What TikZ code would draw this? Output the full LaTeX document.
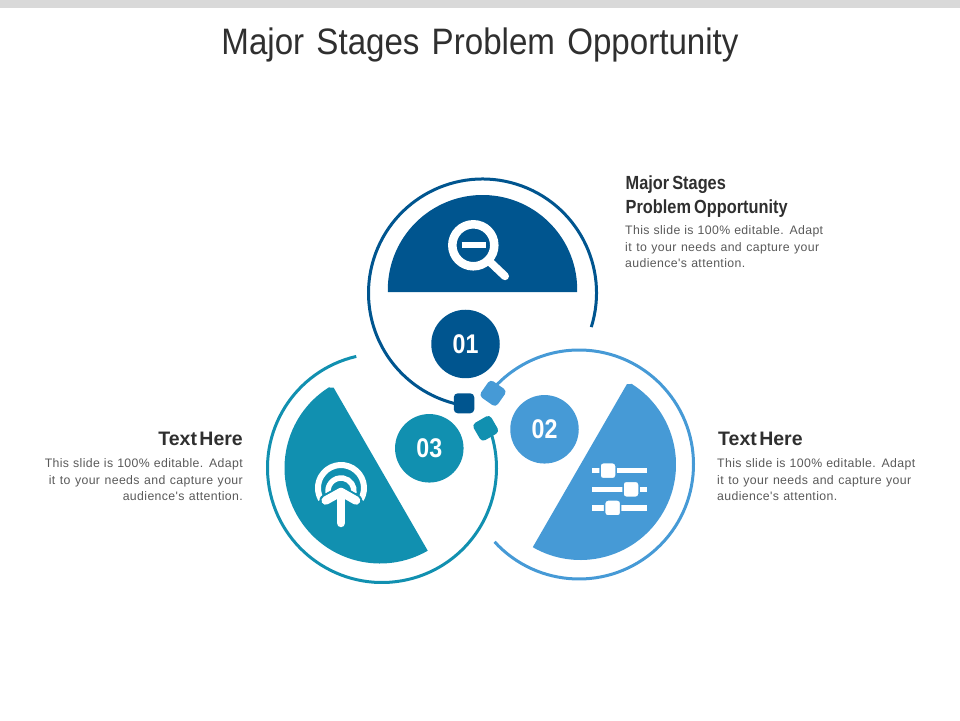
\documentclass[tikz,border=0pt]{standalone}
\usepackage{fontspec}
\setmainfont{Liberation Sans}
\newfontfamily\titlefont[FakeStretch=0.9]{Liberation Sans}
\newfontfamily\headfont[FakeStretch=0.86]{Liberation Sans Bold}
\newfontfamily\headwide{Liberation Sans Bold}
\newfontfamily\bodyfont[LetterSpace=3]{Liberation Sans}
\usetikzlibrary{calc}
\definecolor{cone}{HTML}{00558F}
\definecolor{ctwo}{HTML}{469AD6}
\definecolor{cthree}{HTML}{1190B0}
\definecolor{cband}{HTML}{D9D9D9}
\definecolor{chead}{HTML}{2F2F2F}
\definecolor{cbody}{HTML}{595959}
\newcommand{\bodyline}[2]{\makebox[#1pt][s]{#2}}
\newcommand{\numtext}[1]{\raisebox{-0.8pt}{#1}}
\tikzset{
  x=1pt,y=1pt,
  ring/.style={line width=3pt},
  numdisc/.style={circle,minimum size=68.5pt,inner sep=0pt,text=white,font=\headfont\fontsize{27}{27}\selectfont},
  tab/.style={rounded corners=4pt,minimum width=20.5pt,minimum height=20pt,inner sep=0pt},
  heading/.style={text=chead,font=\headfont\fontsize{19}{23.5}\selectfont,inner sep=0pt},
  headingb/.style={text=chead,font=\headwide\fontsize{19.5}{23.5}\selectfont,inner sep=0pt},
  bodytext/.style={text=cbody,font=\bodyfont\fontsize{12.3}{16.5}\selectfont,inner sep=0pt},
  ico/.style={draw=white,line cap=round}
}
\begin{document}
\begin{tikzpicture}
\useasboundingbox (0,0) rectangle (960,720);
\fill[cband] (0,712) rectangle (960,720);
\node[text=chead,font=\titlefont\fontsize{36.8}{36.8}\selectfont,inner sep=0pt] (title) at (480,675.5) {Major\hspace{3pt} Stages\hspace{3pt} Problem\hspace{3pt} Opportunity};

\coordinate (c1) at (482.5,427);
\coordinate (c2) at (579,255.5);
\coordinate (c3) at (382,252);
\coordinate (d1) at (482.5,430.3);
\coordinate (d2) at (580.5,255.5);
\coordinate (d3) at (380,252);

% half discs
\fill[cone] ($(d1)+(-1.4:94.7)$) arc[start angle=-1.4,end angle=181.4,radius=94.7] -- cycle;
\fill[ctwo] ($(d2)+(60:92.8)$) -- ($(d2)+(57.5:95.5)$) arc[start angle=57.5,end angle=-120,radius=95.5] -- cycle;
\fill[cthree] ($(d3)+(120:92.8)$) -- ($(d3)+(122.5:95.5)$) arc[start angle=122.5,end angle=300,radius=95.5] -- cycle;

% rings
\draw[ring,cone] ($(c1)+(-17.4:114)$) coordinate (s1) arc[start angle=-17.4,end angle=260,radius=114] coordinate (e1);
\draw[ring,ctwo] ($(c2)+(222.5:114.5)$) coordinate (s2) arc[start angle=222.5,end angle=500,radius=114.5] coordinate (e2);
\draw[ring,cthree] ($(c3)+(103:114.5)$) coordinate (s3) arc[start angle=103,end angle=381,radius=114.5] coordinate (e3);

% tabs
\node[tab,fill=cone] (tab1) at (464,316.7) {};
\node[tab,fill=ctwo,rotate=-35] (tab2) at (493,326.7) {};
\node[tab,fill=cthree,rotate=30] (tab3) at (485.7,291.7) {};

% number discs
\node[numdisc,fill=cone] (n1) at (465.5,376) {\numtext{01}};
\node[numdisc,fill=ctwo] (n2) at (544.5,290.7) {\numtext{02}};
\node[numdisc,fill=cthree] (n3) at (429.3,271.7) {\numtext{03}};

% magnifier icon
\draw[ico,line width=8.5pt] (473.3,474.7) circle[radius=21];
\draw[ico,line width=8pt] (490,458) -- (505,443.8);
\draw[draw=white,line width=6pt] (461.7,475) -- (486,475);

% arrow icon
\draw[ico,line width=6pt,line cap=butt] (341,232) ++(-30:23) arc[start angle=-30,end angle=210,radius=23];
\draw[ico,line width=5.5pt,line cap=butt] (341,229) ++(-10:13) arc[start angle=-10,end angle=190,radius=13];
\draw[cthree,line width=12.5pt,line cap=round,line join=round] (325.7,219.5) -- (341,228) -- (356,219.5);
\draw[ico,line width=8.5pt,line join=round] (325.7,219.5) -- (341,228) -- (356,219.5);
\draw[ico,line width=8.5pt] (341,197) -- (341,226);

% sliders icon
\draw[draw=white,line width=5.5pt] (592,249.3) -- (646.7,249.3);
\draw[draw=white,line width=5.5pt] (592,230.7) -- (646.7,230.7);
\draw[draw=white,line width=5.5pt] (592,212) -- (646.7,212);
\foreach \kx/\ky in {608/249.3,631/230.7,612.7/212}
  \filldraw[fill=white,draw=ctwo,line width=1.5pt,rounded corners=3pt] (\kx-8,\ky-8) rectangle (\kx+8,\ky+8);

% text blocks
\node[heading,anchor=north west,align=left] (h1) at (625.5,544) {Major\hspace{-1.5pt} Stages\\Problem\hspace{-1.5pt} Opportunity};
\node[bodytext,anchor=north west,align=left] (b1) at (625,494.5) {\bodyline{198}{This slide is 100\% editable. Adapt}\\\bodyline{194}{it to your needs and capture your}\\\bodyline{120}{audience's attention.}};

\node[headingb,anchor=north east,align=right] (h3) at (243,288) {Text\hspace{-3pt} Here};
\node[bodytext,anchor=north east,align=right] (b3) at (243,261.5) {\bodyline{198}{This slide is 100\% editable. Adapt}\\\bodyline{194}{it to your needs and capture your}\\\bodyline{120}{audience's attention.}};

\node[headingb,anchor=north west,align=left] (h2) at (718,288) {Text\hspace{-3pt} Here};
\node[bodytext,anchor=north west,align=left] (b2) at (717,261.5) {\bodyline{198}{This slide is 100\% editable. Adapt}\\\bodyline{194}{it to your needs and capture your}\\\bodyline{120}{audience's attention.}};
\end{tikzpicture}
\end{document}
